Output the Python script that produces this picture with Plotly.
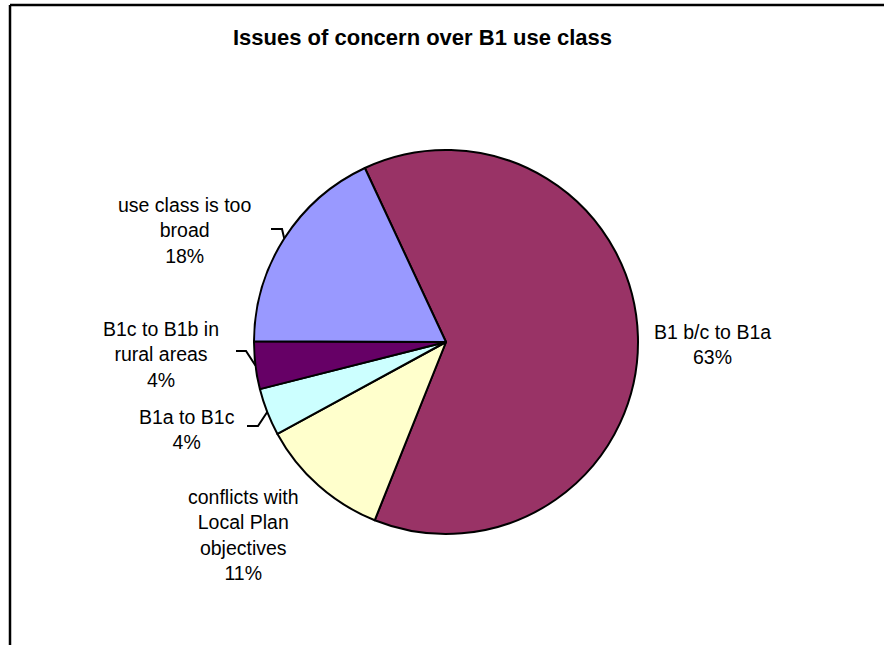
import math
import plotly.graph_objects as go

# Responses grouped by issue (percent of all concerns)
labels = [
    "B1 b/c to B1a",
    "conflicts with<br>Local Plan<br>objectives",
    "B1a to B1c",
    "B1c to B1b in<br>rural areas",
    "use class is too<br>broad",
]
values = [63, 11, 4, 4, 18]
colors = ["#993366", "#FFFFCC", "#CCFFFF", "#660066", "#9999FF"]

W, H = 884, 645
CX, CY, R = 446, 342, 192          # pie centre and radius in pixels
ROTATION = 335                      # start angle of first slice, clockwise from 12 o'clock


def px(x):
    return x / W


def py(y):
    return 1 - y / H


fig = go.Figure(
    go.Pie(
        labels=labels,
        values=values,
        marker=dict(colors=colors, line=dict(color="black", width=2)),
        sort=False,
        direction="clockwise",
        rotation=ROTATION,
        textinfo="none",
        hoverinfo="label+percent",
        showlegend=False,
        domain=dict(x=[px(CX - R), px(CX + R)], y=[py(CY + R), py(CY - R)]),
    )
)

# label block centres (pixels)
label_pos = [(712, 344.5), (243, 535), (187, 429), (161, 354), (184, 231)]
# leader lines: start point and elbow (pixels); None where no leader is drawn
leaders = [None, None, ((247, 426), (258, 426)), ((236, 351), (246, 351)), ((271, 229), (282, 229))]

total = sum(values)
cum = 0
annotations = []
shapes = []
for lab, v, pos, ld in zip(labels, values, label_pos, leaders):
    mid = math.radians(ROTATION + (cum + v / 2) / total * 360)
    cum += v
    annotations.append(dict(
        text=f"{lab}<br>{v}%", x=px(pos[0]), y=py(pos[1]),
        xref="paper", yref="paper", xanchor="center", yanchor="middle",
        showarrow=False, align="center",
        font=dict(family="Arial, Liberation Sans, sans-serif", size=19.5, color="black"),
    ))
    if ld is not None:
        ex, ey = CX + R * math.sin(mid), CY - R * math.cos(mid)
        path = (f"M {px(ld[0][0])},{py(ld[0][1])} L {px(ld[1][0])},{py(ld[1][1])} "
                f"L {px(ex)},{py(ey)}")
        shapes.append(dict(type="path", path=path, xref="paper", yref="paper",
                           line=dict(color="black", width=2)))

# chart area frame (left and top edges)
shapes.append(dict(type="line", xref="paper", yref="paper", x0=px(10), x1=px(10),
                   y0=-0.05, y1=py(5), line=dict(color="black", width=2.5)))
shapes.append(dict(type="line", xref="paper", yref="paper", x0=px(10), x1=1.05,
                   y0=py(5), y1=py(5), line=dict(color="black", width=2.5)))

annotations.append(dict(
    text="<b>Issues of concern over B1 use class</b>", x=px(422), y=py(37),
    xref="paper", yref="paper", xanchor="center", yanchor="middle", showarrow=False,
    font=dict(family="Arial, Liberation Sans, sans-serif", size=22, color="black"),
))

fig.update_layout(
    width=W, height=H,
    margin=dict(l=0, r=0, t=0, b=0),
    paper_bgcolor="white",
    plot_bgcolor="white",
    annotations=annotations,
    shapes=shapes,
)

fig.write_html("out.html")
